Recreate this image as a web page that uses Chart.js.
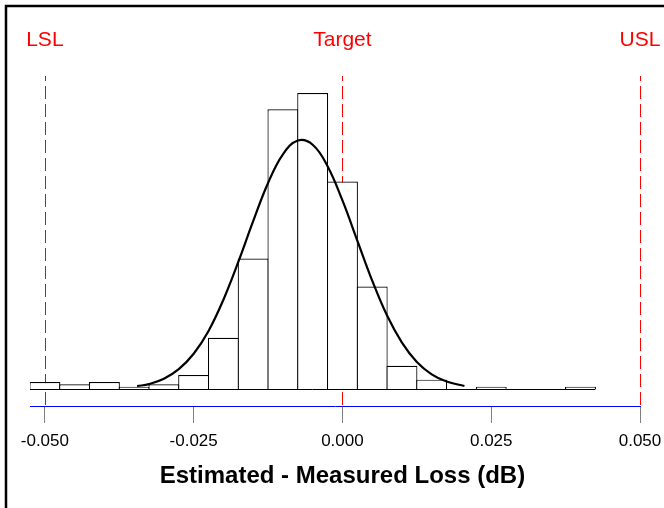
<!DOCTYPE html>
<html>
<head>
<meta charset="utf-8">
<script src="https://cdn.jsdelivr.net/npm/chart.js@4/dist/chart.umd.min.js"></script>
<style>
    body { margin: 0; background: #fff; }
</style>
</head>
<body>
<canvas id="histChart" width="664" height="508"></canvas>
<script>
// histogram bins (centre of each bin) and counts
const binCenters = [-0.050, -0.045, -0.040, -0.035, -0.030, -0.025, -0.020, -0.015, -0.010, -0.005,
                    0.000, 0.005, 0.010, 0.015, 0.020, 0.025, 0.030, 0.035, 0.040];
const binCounts = [3, 2, 3, 1, 2, 6, 22, 56, 120, 127, 89, 44, 10, 4, 0, 1, 0, 0, 1];

// fitted normal curve
const curveX = [-0.0345, -0.0325, -0.030, -0.0275, -0.025, -0.0225, -0.020, -0.0175, -0.015, -0.0125,
                -0.010, -0.0075, -0.005, -0.0025, 0.000, 0.0025, 0.005, 0.0075, 0.010, 0.0125,
                0.015, 0.0175, 0.0205];
const curveY = [1.2, 2.1, 4.4, 8.5, 15.1, 24.9, 38.3, 54.5, 72.0, 88.4,
                100.7, 106.6, 104.8, 95.6, 80.9, 63.7, 46.5, 31.5, 19.9, 11.6,
                6.3, 3.2, 1.3];

const tickValues = [-0.050, -0.025, 0.000, 0.025, 0.050];
const specValues = [-0.050, 0.000, 0.050];
const specLabels = ['LSL', 'Target', 'USL'];
const axisTitle = 'Estimated - Measured Loss (dB)';

const binWidth = 0.005;
const fontFamily = '"Liberation Sans", Arial, sans-serif';

Chart.defaults.font.family = fontFamily;

// red spec lines, drawn before bars so the bars hide them
const specLines = {
    id: 'specLines',
    beforeDatasetsDraw(chart) {
        const { ctx, chartArea, scales: { x } } = chart;
        ctx.save();
        ctx.strokeStyle = '#ff0000';
        ctx.lineWidth = 1;
        ctx.setLineDash([13, 5]);
        ctx.lineDashOffset = 8;
        specValues.forEach(v => {
            const px = Math.round(x.getPixelForValue(v)) + 0.5;
            ctx.beginPath();
            ctx.moveTo(px, chartArea.top);
            ctx.lineTo(px, chartArea.bottom);
            ctx.stroke();
        });
        ctx.restore();
    },
    afterDatasetsDraw(chart) {
        // histogram baseline
        const { ctx, scales: { x, y } } = chart;
        const y0 = Math.round(y.getPixelForValue(0)) + 0.5;
        ctx.save();
        ctx.strokeStyle = '#000';
        ctx.lineWidth = 1;
        ctx.beginPath();
        ctx.moveTo(x.getPixelForValue(binCenters[0] - binWidth / 2), y0);
        ctx.lineTo(x.getPixelForValue(binCenters[binCenters.length - 1] + binWidth / 2), y0);
        ctx.stroke();
        ctx.restore();
    },
    afterDraw(chart) {
        const { ctx, scales: { x } } = chart;
        ctx.save();
        ctx.textAlign = 'center';
        ctx.textBaseline = 'alphabetic';
        // spec labels
        ctx.fillStyle = '#ff0000';
        ctx.font = '21px ' + fontFamily;
        specValues.forEach((v, i) => {
            ctx.fillText(specLabels[i], x.getPixelForValue(v), 46);
        });
        // axis title, centred under the -0.05 .. 0.05 range
        ctx.fillStyle = '#000';
        ctx.font = 'bold 24px ' + fontFamily;
        ctx.fillText(axisTitle, x.getPixelForValue(0), 483);
        // frame (left and top)
        ctx.strokeStyle = '#000';
        ctx.lineWidth = 2.5;
        ctx.beginPath();
        ctx.moveTo(6, chart.height);
        ctx.lineTo(6, 6);
        ctx.lineTo(chart.width, 6);
        ctx.stroke();
        ctx.restore();
    }
};

const ctx = document.getElementById('histChart').getContext('2d');
const histChart = new Chart(ctx, {
    type: 'bar',
    data: {
        datasets: [{
            type: 'line',
            label: 'Normal fit',
            data: curveX.map((v, i) => ({ x: v, y: curveY[i] })),
            borderColor: '#000',
            borderWidth: 2.2,
            pointRadius: 0,
            tension: 0.4,
            fill: false,
            order: 1
        }, {
            label: 'Count',
            data: binCenters.map((v, i) => ({ x: v, y: binCounts[i] })),
            backgroundColor: '#ffffff',
            borderColor: '#000000',
            borderWidth: 1.2,
            barPercentage: 1.04,
            categoryPercentage: 1,
            order: 2
        }]
    },
    options: {
        responsive: false,
        animation: false,
        layout: {
            padding: { top: 76, left: 30, right: 24, bottom: 0 }
        },
        plugins: {
            legend: { display: false },
            tooltip: { enabled: false }
        },
        scales: {
            x: {
                type: 'linear',
                min: -0.0525,
                max: 0.050,
                offset: false,
                border: { display: true, color: '#0000ff', width: 1 },
                grid: {
                    drawOnChartArea: false,
                    drawTicks: true,
                    tickLength: 17,
                    tickColor: '#808080',
                    color: '#808080',
                    offset: false
                },
                afterBuildTicks: scale => {
                    scale.ticks = tickValues.map(v => ({ value: v }));
                },
                afterFit: scale => {
                    scale.height = 102;
                    scale.paddingLeft = 0;
                    scale.paddingRight = 0;
                },
                ticks: {
                    padding: 8,
                    color: '#000',
                    font: { size: 17 },
                    maxRotation: 0,
                    autoSkip: false,
                    callback: v => Number(v).toFixed(3)
                }
            },
            y: {
                display: false,
                min: -7.3,
                max: 134.3
            }
        }
    },
    plugins: [specLines]
});
</script>
</body>
</html>
